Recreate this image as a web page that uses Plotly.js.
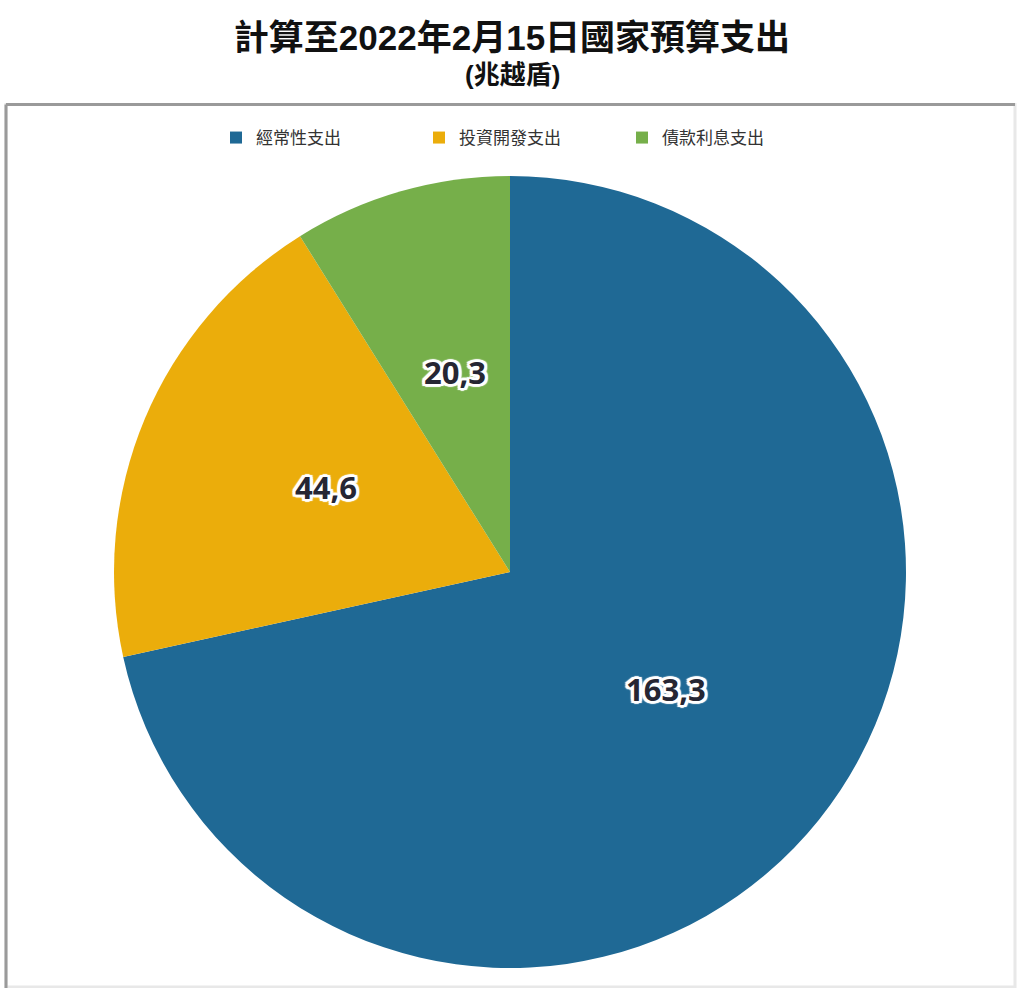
<!DOCTYPE html>
<html>
<head>
<meta charset="utf-8">
<script src="https://cdn.plot.ly/plotly-3.0.1.min.js"></script>
<style>
html,body{margin:0;padding:0;background:#fff;}
#chart{width:1024px;height:988px;}
</style>
</head>
<body>
<div id="chart"></div>
<script>
const categories = ["經常性支出", "投資開發支出", "債款利息支出"];
const values = [163.3, 44.6, 20.3];
const colors = ["#1f6995", "#ebad0b", "#76af4a"];
const titleText = "計算至2022年2月15日國家預算支出";
const subtitleText = "(兆越盾)";

const W = 1024, H = 988;
const px = x => x / W;
const py = y => 1 - y / H;

// pie geometry (pixels)
const cx = 510, cy = 572, R = 396;
const labelFrac = 0.505;
const labelLift = 8;

const outline = ["2px 0 0 #fff","-2px 0 0 #fff","0 2px 0 #fff","0 -2px 0 #fff",
  "2px 2px 0 #fff","-2px -2px 0 #fff","2px -2px 0 #fff","-2px 2px 0 #fff",
  "3px 0 1px #fff","-3px 0 1px #fff","0 3px 1px #fff","0 -3px 1px #fff",
  "3px 2px 1px #fff","-3px -2px 1px #fff","3px -2px 1px #fff","-3px 2px 1px #fff"].join(",");

const trace = {
  type: "pie",
  labels: categories,
  values: values,
  sort: false,
  direction: "clockwise",
  rotation: 0,
  marker: {colors: colors, line: {width: 0}},
  textposition: "none",
  hoverinfo: "none",
  domain: {x: [px(cx - R), px(cx + R)], y: [py(cy + R), py(cy - R)]}
};

// value labels placed at the middle angle of each slice
const total = values.reduce((a, b) => a + b, 0);
let acc = 0;
const labelAnns = values.map(v => {
  const mid = (acc + v / 2) / total * 2 * Math.PI;
  acc += v;
  const lx = cx + labelFrac * R * Math.sin(mid);
  const ly = cy - labelFrac * R * Math.cos(mid) - labelLift;
  return {
    text: "<b>" + v.toFixed(1).replace(".", ",") + "</b>",
    x: px(lx), y: py(ly), xref: "paper", yref: "paper",
    showarrow: false, xanchor: "center", yanchor: "middle",
    font: {family: "Open Sans, Noto Sans, sans-serif", size: 31, color: "#262633", shadow: outline}
  };
});

const layout = {
  width: W, height: H,
  margin: {l: 0, r: 0, t: 0, b: 0},
  paper_bgcolor: "#fff",
  title: {
    text: "<b>" + titleText + "</b>",
    font: {family: "Liberation Sans, Noto Sans CJK TC, sans-serif", size: 35, color: "#111"},
    x: 0.5, xanchor: "center", y: py(38), yanchor: "middle", xref: "paper", yref: "container"
  },
  annotations: [{
    text: "<b>" + subtitleText + "</b>",
    font: {family: "Liberation Sans, Noto Sans CJK TC, sans-serif", size: 26, color: "#111"},
    x: 0.5, y: py(75), xref: "paper", yref: "paper", showarrow: false, xanchor: "center", yanchor: "middle"
  }].concat(labelAnns),
  showlegend: true,
  legend: {
    orientation: "h",
    x: px(216), xanchor: "left", y: py(138), yanchor: "middle",
    entrywidth: 158, entrywidthmode: "pixels",
    font: {family: "Noto Sans CJK TC, sans-serif", size: 17, color: "#333"},
    itemclick: false, itemdoubleclick: false
  },
  shapes: [
    {type: "rect", xref: "paper", yref: "paper", x0: px(6), x1: px(1015), y0: py(987), y1: py(104.5),
     line: {color: "#e8e8e8", width: 3}, layer: "below"},
    {type: "line", xref: "paper", yref: "paper", x0: px(6), x1: px(1015), y0: py(104.5), y1: py(104.5),
     line: {color: "#9a9a9a", width: 3}},
    {type: "line", xref: "paper", yref: "paper", x0: px(6), x1: px(6), y0: py(104.5), y1: py(988),
     line: {color: "#9a9a9a", width: 3}}
  ]
};

Plotly.newPlot("chart", [trace], layout, {displayModeBar: false, staticPlot: true});
</script>
</body>
</html>
